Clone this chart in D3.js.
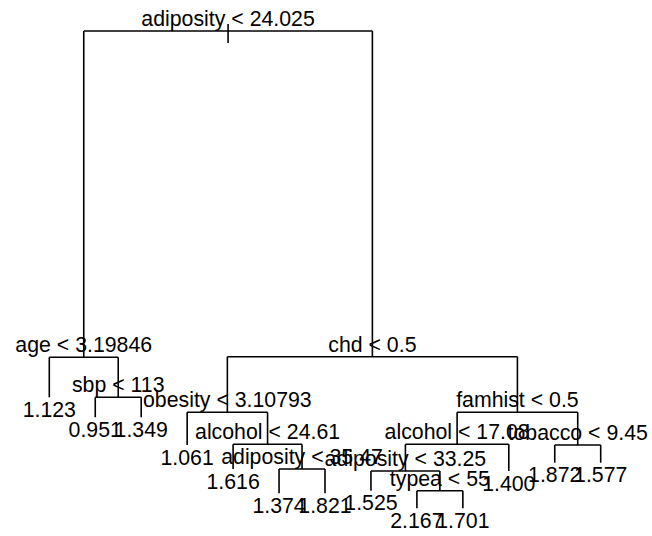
<!DOCTYPE html>
<html>
<head>
<meta charset="utf-8">
<script src="https://cdn.jsdelivr.net/npm/d3@7"></script>
<style>
  html, body { margin: 0; padding: 0; background: #fff; }
  svg { display: block; }
  text { font-family: "Liberation Sans", Arial, Helvetica, sans-serif; font-size: 21.3px; fill: #000; }
</style>
</head>
<body>
<svg id="chart" width="652" height="536"></svg>
<script>
// Regression tree (preorder). Internal nodes carry split labels, leaves carry fitted values.
const nodeIds    = ["n0","n1","n2","n3","n4","n5","n6","n7","n8","n9","n10","n11","n12","n13","n14","n15","n16","n17","n18","n19","n20","n21","n22","n23","n24"];
const parentIds  = ["",  "n0","n1","n1","n3","n3","n0","n6","n7","n7","n9", "n9", "n11","n11","n6", "n14","n15","n16","n16","n18","n18","n15","n14","n22","n22"];
const nodeLabels = [
  "adiposity < 24.025",
  "age < 3.19846", "1.123", "sbp < 113", "0.951", "1.349",
  "chd < 0.5",
  "obesity < 3.10793", "1.061", "alcohol < 24.61", "1.616", "adiposity < 35.47", "1.374", "1.821",
  "famhist < 0.5",
  "alcohol < 17.08", "adiposity < 33.25", "1.525", "typea < 55", "2.167", "1.701", "1.400",
  "tobacco < 9.45", "1.872", "1.577"
];
// node deviance (vertical position in the proportional tree plot)
const nodeDev = [100,
  31.64, 23.26, 23.26, 19.07, 19.07,
  31.76,
  20.11, 13.26, 13.41, 8.23, 8.23, 3.14, 3.14,
  20.11,
  13.41, 7.81, 3.69, 3.69, 0, 0, 7.81,
  13.26, 9.55, 9.55];

const svg = d3.select("#chart");

const table = nodeIds.map((id, i) => ({ id, parentId: parentIds[i] || null, label: nodeLabels[i], dev: nodeDev[i] }));
const root = d3.stratify().id(d => d.id).parentId(d => d.parentId)(table);

const leaves = root.leaves();
const x = d3.scaleLinear().domain([1, leaves.length]).range([49.3, 600.7]);
const y = d3.scaleLinear().domain([0, 100]).range([508.3, 31]);

leaves.forEach((l, i) => { l.px = x(i + 1); });
root.eachAfter(n => {
  if (n.children) n.px = d3.mean(n.children, c => c.px);
  n.py = y(n.data.dev);
});

const g = svg.append("g").attr("stroke", "#000").attr("stroke-width", 1.6).attr("fill", "none").attr("stroke-linecap", "butt");

root.each(n => {
  if (n.children) {
    const [a, b] = n.children;
    g.append("line").attr("x1", a.px).attr("x2", b.px).attr("y1", n.py).attr("y2", n.py);
    n.children.forEach(c => {
      g.append("line").attr("x1", c.px).attr("x2", c.px).attr("y1", n.py).attr("y2", c.py);
    });
  }
});
// stub above root
g.append("line").attr("x1", root.px).attr("x2", root.px).attr("y1", root.py - 7).attr("y2", root.py + 12);

const t = svg.append("g").attr("text-anchor", "middle");
root.each(n => {
  if (n.children) {
    t.append("text").attr("x", n.px).attr("y", n.py - 5).text(n.data.label);
  } else {
    t.append("text").attr("x", n.px).attr("y", n.py + 19.5).text(n.data.label);
  }
});
</script>
</body>
</html>
